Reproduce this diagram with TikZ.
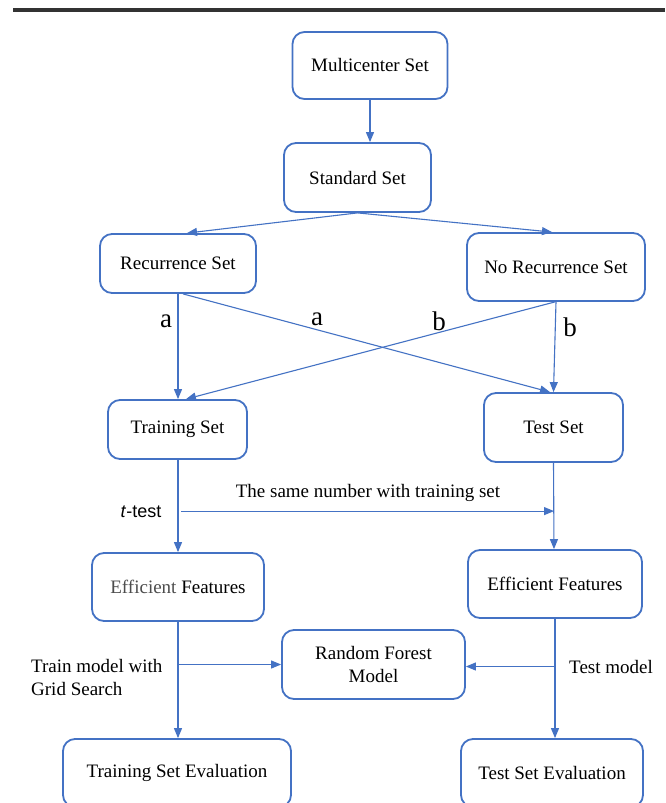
\documentclass[tikz,border=0pt]{standalone}
\usepackage{fontspec}
\setmainfont{Liberation Serif}
\newfontfamily\arialfont{Liberation Sans}
\usetikzlibrary{arrows.meta,calc}
\definecolor{lblue}{RGB}{68,114,196}
\begin{document}
\begin{tikzpicture}[x=1pt,y=-1pt,
  box/.style={draw=lblue,line width=1.8pt,rounded corners=12pt,fill=white,
    align=center,inner sep=0pt,font=\fontsize{19}{23}\selectfont},
  conn/.style={draw=lblue,line width=1.1pt,-{Triangle[length=10pt,width=8pt]}},
  plainline/.style={draw=lblue,line width=1.1pt},
  lbl/.style={inner sep=0pt,font=\fontsize{19}{23}\selectfont},
  biglbl/.style={inner sep=0pt,font=\fontsize{27}{30}\selectfont}]
\clip (0,0) rectangle (665,803);
\fill[white] (0,0) rectangle (665,803);
\draw[line width=3.5pt,black!80] (13,10) -- (665,10);

\node[box,minimum width=155pt,minimum height=67pt] (multi) at (370,65.5) {Multicenter Set};
\node[box,minimum width=147pt,minimum height=69pt] (std) at (357.5,177.5) {Standard Set};
\node[box,minimum width=156pt,minimum height=59pt] (rec) at (178,263.5) {Recurrence Set};
\node[box,minimum width=178pt,minimum height=68pt] (norec) at (556,267) {No Recurrence Set};
\node[box,minimum width=139pt,minimum height=59pt] (train) at (177.5,429.5) {Training Set};
\node[box,minimum width=139pt,minimum height=69pt] (test) at (553.5,427.5) {Test Set};
\node[box,minimum width=172pt,minimum height=68pt] (efL) at (178,587) {{\color{black!70}Efficient} Features};
\node[box,minimum width=174pt,minimum height=68pt] (efR) at (555,584) {Efficient Features};
\node[box,minimum width=183pt,minimum height=69pt] (rf) at (373.5,664.5) {Random Forest\\Model};
\node[box,minimum width=228pt,minimum height=68pt] (tse) at (177,773) {Training Set Evaluation};
\node[box,minimum width=182pt,minimum height=68pt] (tste) at (552,773) {Test Set Evaluation};

% connectors
\draw[conn] (multi.south) -- (multi.south |- std.north);
\draw[conn] (std.south) -- ($(rec.north)+(9,0)$);
\draw[conn] (std.south) -- ($(norec.north)+(-4,0)$);
\draw[conn] (rec.south) -- (train.north -| rec.south);
\draw[conn] ($(rec.south)+(5,0)$) -- ($(test.north)+(-3.5,0)$);
\draw[conn] ($(norec.south)+(-1,0)$) -- ($(train.north)+(8.5,0)$);
\draw[conn] (norec.south) -- (test.north);
\draw[conn] (train.south -| rec.south) -- (efL.north);
\draw[conn] ($(test.south)+(0,0)$) -- ($(efR.north)+(-1,0)$);
\coordinate (tstart) at ($(efL.north)+(3,-41)$);
\coordinate (tend) at ($(efR.north)+(-1,-38)$);
\draw[conn] (tstart) -- (tend);
\draw[conn] (efL.south) -- (tse.north -| efL.south);
\draw[conn] (efR.south) -- (tste.north -| efR.south);
\coordinate (lj) at (efL.south |- rf.west);
\coordinate (rj) at ($(efR.south |- rf.east)+(0,2)$);
\draw[conn] (lj) -- (rf.west);
\draw[conn] (rj) -- ($(rf.east)+(0,2)$);

% labels
\node[biglbl] (la1) at (166,321) {a};
\node[biglbl] (la2) at (317,319) {a};
\node[biglbl] (lb1) at (439,321) {b};
\node[biglbl] (lb2) at (570,327) {b};
\node[lbl] (same) at (368,493) {The same number with training set};
\node[inner sep=0pt,font=\fontsize{18}{22}\selectfont\arialfont] (ttest) at (141,512) {\textit{t}-test};
\node[lbl,align=left,anchor=west] (trainlbl) at (31,677) {Train model with\\Grid Search};
\node[lbl,anchor=west] (testlbl) at (569,667) {Test model};
\end{tikzpicture}
\end{document}
